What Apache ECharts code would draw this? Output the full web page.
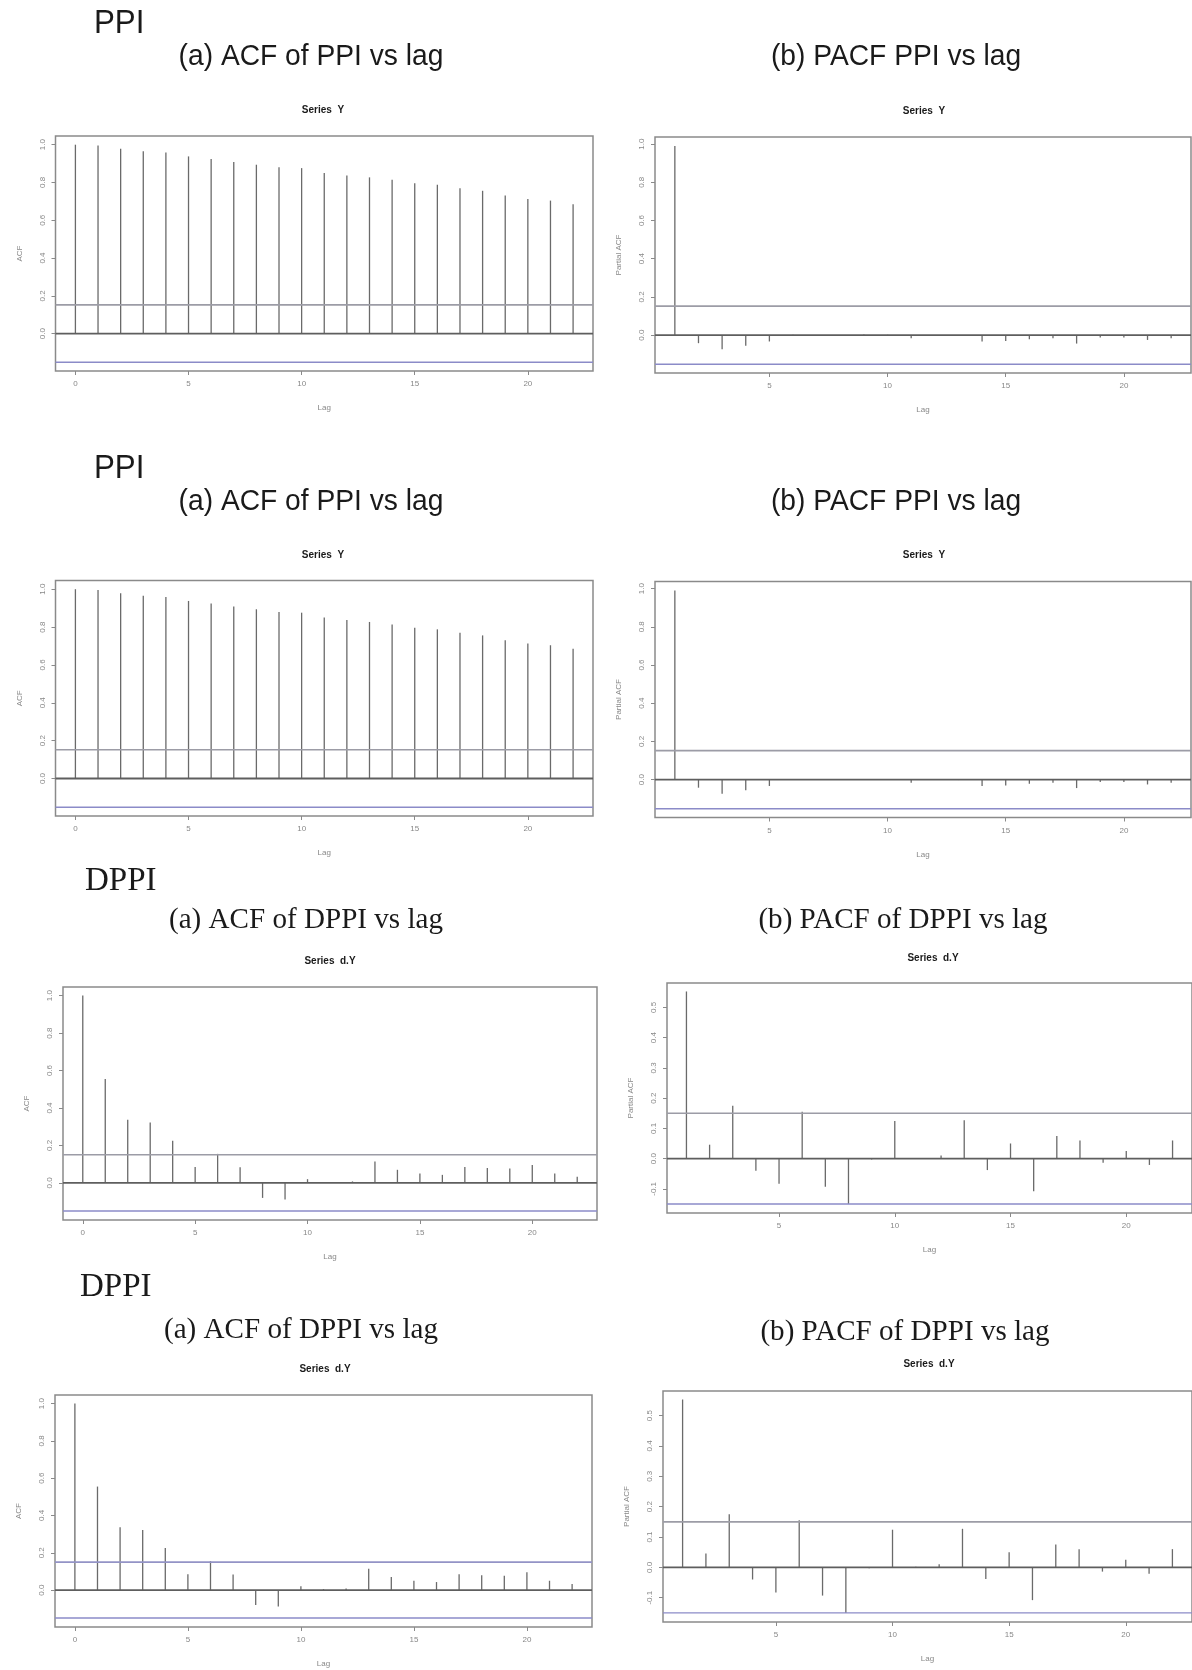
<!DOCTYPE html>
<html>
<head>
<meta charset="utf-8">
<title>ACF / PACF of PPI and DPPI</title>
<script src="https://cdn.jsdelivr.net/npm/echarts@6/dist/echarts.min.js"></script>
<style>
  html, body { margin: 0; padding: 0; background: #fff; }
  #main { width: 1192px; height: 1670px; }
</style>
</head>
<body>
<div id="main"></div>
<script>
// lags
var lagsAcf = [0, 1, 2, 3, 4, 5, 6, 7, 8, 9, 10, 11, 12, 13, 14, 15, 16, 17, 18, 19, 20, 21, 22];
var lagsPacf = [1, 2, 3, 4, 5, 6, 7, 8, 9, 10, 11, 12, 13, 14, 15, 16, 17, 18, 19, 20, 21, 22];

// Series Y (PPI)
var ppiAcf = [1.0, 0.996, 0.979, 0.965, 0.959, 0.938, 0.924, 0.908, 0.894, 0.880, 0.876, 0.850,
              0.837, 0.827, 0.814, 0.796, 0.788, 0.770, 0.756, 0.731, 0.713, 0.704, 0.685];
var ppiPacf = [0.99, -0.042, -0.074, -0.056, -0.033, 0.002, -0.001, 0.001, 0.003, 0.002, -0.016,
               0.0, -0.002, -0.033, -0.03, -0.021, -0.016, -0.044, -0.012, -0.012, -0.025, -0.016];
var ppiCi = 0.152;

// Series d.Y (DPPI)
var dppiAcf = [1.0, 0.555, 0.337, 0.322, 0.225, 0.085, 0.155, 0.084, -0.08, -0.088, 0.02, 0.005,
               0.008, 0.115, 0.07, 0.05, 0.043, 0.085, 0.08, 0.077, 0.095, 0.05, 0.033];
var dppiPacf = [0.553, 0.046, 0.175, -0.04, -0.083, 0.155, -0.093, -0.15, -0.003, 0.124, 0.002,
                0.01, 0.127, -0.038, 0.05, -0.108, 0.075, 0.06, -0.014, 0.025, -0.021, 0.06];
var dppiCi = 0.15;

// tick labels
var acfXTicks = [0, 5, 10, 15, 20];
var pacfXTicks = [5, 10, 15, 20];
var acfYTicks = [0, 0.2, 0.4, 0.6, 0.8, 1.0];
var dppiPacfYTicks = [-0.1, 0, 0.1, 0.2, 0.3, 0.4, 0.5];

var ACF_X = [-0.88, 22.88], PACF_X = [0.16, 22.84];

var panels = [
  { box: [55.5, 136, 537.5, 235], lags: lagsAcf, vals: ppiAcf, ci: ppiCi, x: ACF_X, y: [-0.198, 1.046],
    xt: acfXTicks, yt: acfYTicks, yname: 'ACF', ciCol: ['#9c9ca6', '#8b8bc8'] },
  { box: [655, 137, 536, 236], lags: lagsPacf, vals: ppiPacf, ci: ppiCi, x: PACF_X, y: [-0.198, 1.037],
    xt: pacfXTicks, yt: acfYTicks, yname: 'Partial ACF', ciCol: ['#9c9ca6', '#8b8bc8'] },
  { box: [55.5, 580.5, 537.5, 235.5], lags: lagsAcf, vals: ppiAcf, ci: ppiCi, x: ACF_X, y: [-0.198, 1.046],
    xt: acfXTicks, yt: acfYTicks, yname: 'ACF', ciCol: ['#9c9ca6', '#8b8bc8'] },
  { box: [655, 581.5, 536, 236], lags: lagsPacf, vals: ppiPacf, ci: ppiCi, x: PACF_X, y: [-0.198, 1.037],
    xt: pacfXTicks, yt: acfYTicks, yname: 'Partial ACF', ciCol: ['#9c9ca6', '#8b8bc8'] },
  { box: [63, 987, 534, 233], lags: lagsAcf, vals: dppiAcf, ci: dppiCi, x: ACF_X, y: [-0.198, 1.046],
    xt: acfXTicks, yt: acfYTicks, yname: 'ACF', ciCol: ['#9c9ca6', '#8b8bc8'] },
  { box: [667, 983, 536, 230], lags: lagsPacf, vals: dppiPacf, ci: dppiCi, x: PACF_X, y: [-0.180, 0.581],
    xt: pacfXTicks, yt: dppiPacfYTicks, yname: 'Partial ACF', ciCol: ['#9c9ca6', '#8b8bc8'] },
  { box: [55, 1395, 537, 232], lags: lagsAcf, vals: dppiAcf, ci: dppiCi, x: ACF_X, y: [-0.198, 1.046],
    xt: acfXTicks, yt: acfYTicks, yname: 'ACF', ciCol: ['#9393c6', '#8b8bc8'] },
  { box: [663, 1391, 536, 231], lags: lagsPacf, vals: dppiPacf, ci: dppiCi, x: PACF_X, y: [-0.180, 0.581],
    xt: pacfXTicks, yt: dppiPacfYTicks, yname: 'Partial ACF', ciCol: ['#9c9ca6', '#8b8bc8'] }
];

var gray = '#8a8a8a';
var grids = [], xAxes = [], yAxes = [], series = [];

panels.forEach(function (p, i) {
  grids.push({
    left: p.box[0], top: p.box[1], width: p.box[2], height: p.box[3],
    show: true, borderColor: gray, borderWidth: 1.5, backgroundColor: 'transparent'
  });
  xAxes.push({
    type: 'value', gridIndex: i, min: p.x[0], max: p.x[1], position: 'bottom',
    name: 'Lag', nameLocation: 'middle', nameGap: 33,
    nameTextStyle: { fontSize: 8, color: '#888', fontFamily: 'Liberation Sans' },
    axisLine: { show: false, onZero: false },
    axisTick: { show: true, customValues: p.xt, length: 4, lineStyle: { color: gray } },
    axisLabel: { customValues: p.xt, fontSize: 8, color: '#888', margin: 9, fontFamily: 'Liberation Sans' },
    splitLine: { show: false }
  });
  yAxes.push({
    type: 'value', gridIndex: i, min: p.y[0], max: p.y[1], position: 'left',
    name: p.yname, nameLocation: 'middle', nameGap: 32, nameRotate: 90,
    nameTextStyle: { fontSize: 8, color: '#888', fontFamily: 'Liberation Sans' },
    axisLine: { show: false, onZero: false },
    axisTick: { show: true, customValues: p.yt, length: 4, lineStyle: { color: gray } },
    axisLabel: {
      customValues: p.yt, fontSize: 8, color: '#888', rotate: 90, margin: 9,
      fontFamily: 'Liberation Sans',
      formatter: function (v) { return v.toFixed(1); }
    },
    splitLine: { show: false }
  });

  // spikes
  series.push({
    type: 'custom', xAxisIndex: i, yAxisIndex: i,
    data: p.lags.map(function (l, k) { return [l, p.vals[k]]; }),
    encode: { x: 0, y: 1 },
    renderItem: function (params, api) {
      var a = api.coord([api.value(0), 0]);
      var b = api.coord([api.value(0), api.value(1)]);
      return {
        type: 'line',
        shape: { x1: a[0], y1: a[1], x2: b[0], y2: b[1] },
        style: { stroke: '#6a6a6a', lineWidth: 1.3 }
      };
    },
    silent: true
  });

  // zero line and confidence bounds
  var hl = [[0, '#5e5e5e', 1.8], [p.ci, p.ciCol[0], 1.6], [-p.ci, p.ciCol[1], 1.4]];
  hl.forEach(function (h) {
    series.push({
      type: 'line', xAxisIndex: i, yAxisIndex: i, silent: true, symbol: 'none',
      data: [[p.x[0], h[0]], [p.x[1], h[0]]],
      lineStyle: { color: h[1], width: h[2] }
    });
  });
});

function txt(text, x, y, font, align, sx) {
  return {
    type: 'text', x: x, y: y, scaleX: sx || 1,
    style: { text: text, font: font, fill: '#1a1a1a', align: align, verticalAlign: 'middle' }
  };
}

var sans = '30px "Liberation Sans"';
var serif = '30px "Liberation Serif"';
var small = 'bold 10px "Liberation Sans"';

var graphics = [
  // row 1
  txt('PPI', 94, 24, '34px "Liberation Sans"', 'left', 0.92),
  txt('(a) ACF of PPI vs lag', 311, 57, sans, 'center', 0.94),
  txt('(b) PACF PPI vs lag', 896, 57, sans, 'center', 0.94),
  txt('Series  Y', 323, 110, small, 'center'),
  txt('Series  Y', 924, 111, small, 'center'),
  // row 2
  txt('PPI', 94, 469, '34px "Liberation Sans"', 'left', 0.92),
  txt('(a) ACF of PPI vs lag', 311, 502, sans, 'center', 0.94),
  txt('(b) PACF PPI vs lag', 896, 502, sans, 'center', 0.94),
  txt('Series  Y', 323, 555, small, 'center'),
  txt('Series  Y', 924, 555, small, 'center'),
  // row 3
  txt('DPPI', 85, 881, '33px "Liberation Serif"', 'left'),
  txt('(a) ACF of DPPI vs lag', 306, 920, serif, 'center', 0.97),
  txt('(b) PACF of DPPI vs lag', 903, 920, serif, 'center', 0.97),
  txt('Series  d.Y', 330, 961, small, 'center'),
  txt('Series  d.Y', 933, 958, small, 'center'),
  // row 4
  txt('DPPI', 80, 1287, '33px "Liberation Serif"', 'left'),
  txt('(a) ACF of DPPI vs lag', 301, 1330, serif, 'center', 0.97),
  txt('(b) PACF of DPPI vs lag', 905, 1332, serif, 'center', 0.97),
  txt('Series  d.Y', 325, 1369, small, 'center'),
  txt('Series  d.Y', 929, 1364, small, 'center')
];

var chart = echarts.init(document.getElementById('main'));
chart.setOption({
  animation: false,
  backgroundColor: '#fff',
  grid: grids,
  xAxis: xAxes,
  yAxis: yAxes,
  series: series,
  graphic: graphics
});
window.addEventListener('resize', chart.resize);
</script>
</body>
</html>
